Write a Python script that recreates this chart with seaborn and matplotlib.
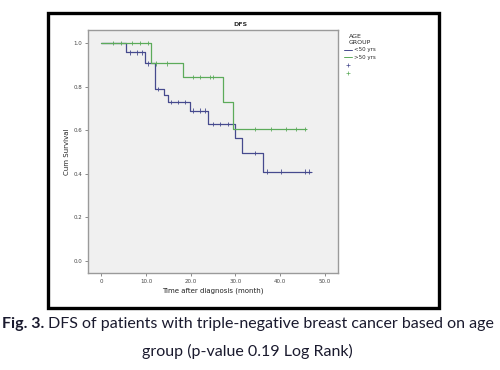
import matplotlib
matplotlib.use("Agg")
import matplotlib.pyplot as plt
import seaborn as sns
import pandas as pd
from matplotlib.patches import Rectangle
from matplotlib.lines import Line2D

# ---- data ----
young_time = [0, 5.6, 9.7, 12.0, 14.1, 15.0, 19.8, 23.9, 29.9, 31.4, 36.2, 47.0]
young_surv = [1.0, 0.957, 0.907, 0.79, 0.76, 0.73, 0.69, 0.63, 0.565, 0.495, 0.41, 0.41]
old_time = [0, 11.2, 18.3, 27.2, 29.5, 45.9]
old_surv = [1.0, 0.907, 0.843, 0.731, 0.605, 0.605]

young_cens_time = [6.4, 7.9, 9.0, 10.4, 12.6, 15.7, 17.2, 18.7, 20.5, 22.0, 23.2, 25.0, 26.5, 28.4, 34.3, 37.0, 40.3, 45.5, 46.6]
young_cens_surv = [0.957, 0.957, 0.957, 0.907, 0.79, 0.73, 0.73, 0.73, 0.69, 0.69, 0.69, 0.63, 0.63, 0.63, 0.495, 0.41, 0.41, 0.41, 0.41]
old_cens_time = [2.6, 4.5, 6.8, 8.6, 10.4, 12.3, 14.6, 20.5, 22.0, 24.3, 25.0, 34.3, 38.1, 41.4, 43.7, 45.5]
old_cens_surv = [1.0, 1.0, 1.0, 1.0, 1.0, 0.907, 0.907, 0.843, 0.843, 0.843, 0.843, 0.605, 0.605, 0.605, 0.605, 0.605]

groups = ["<50 yrs", ">50 yrs"]
x_ticks = [0, 10, 20, 30, 40, 50]
x_tick_labels = ["0", "10.0", "20.0", "30.0", "40.0", "50.0"]
y_ticks = [0.0, 0.2, 0.4, 0.6, 0.8, 1.0]
y_tick_labels = ["0.0", "0.2", "0.4", "0.6", "0.8", "1.0"]

blue = "#464a8e"
green = "#5cab5a"

curves = pd.concat([
    pd.DataFrame({"time": young_time, "surv": young_surv, "group": groups[0]}),
    pd.DataFrame({"time": old_time, "surv": old_surv, "group": groups[1]}),
])
cens = pd.concat([
    pd.DataFrame({"time": young_cens_time, "surv": young_cens_surv, "group": groups[0]}),
    pd.DataFrame({"time": old_cens_time, "surv": old_cens_surv, "group": groups[1]}),
])

sns.set_style("white")
plt.rcParams["font.family"] = ["DejaVu Sans"]

fig = plt.figure(figsize=(5, 3.7), dpi=100)
W, H = 500, 370
ax = fig.add_axes([88 / W, 1 - 273 / H, 250 / W, 243 / H])
ax.set_facecolor("#f0f0f0")

palette = {groups[0]: blue, groups[1]: green}
sns.lineplot(data=curves, x="time", y="surv", hue="group", palette=palette,
             drawstyle="steps-post", linewidth=0.9, legend=False, ax=ax,
             estimator=None, sort=False)
sns.scatterplot(data=cens, x="time", y="surv", hue="group", palette=palette,
                marker="+", s=10, linewidth=0.6, legend=False, ax=ax)

ax.set_xlim(-3, 53)
ax.set_ylim(-0.055, 1.06)
ax.set_xticks(x_ticks)
ax.set_xticklabels(x_tick_labels)
ax.set_yticks(y_ticks)
ax.set_yticklabels(y_tick_labels)
ax.tick_params(axis="both", labelsize=4, length=2.5, width=0.6, color="#777777",
               labelcolor="#444444", pad=1.5, direction="out")
ax.tick_params(axis="x", bottom=True)
ax.tick_params(axis="y", left=True)
for s in ax.spines.values():
    s.set_color("#9a9a9a")
    s.set_linewidth(1.0)

ax.set_xlabel("Time after diagnosis (month)", fontsize=5, labelpad=3, color="#222222")
ax.set_ylabel("Cum Survival", fontsize=5, labelpad=3, color="#222222")
fig.text(240 / W, 1 - 24 / H, "DFS", fontsize=4.5, ha="center", va="center", color="#333333",
         fontweight="bold")

handles = [
    Line2D([], [], color=blue, lw=0.7, drawstyle="steps-post"),
    Line2D([], [], color=green, lw=0.7, drawstyle="steps-post"),
    Line2D([], [], color=blue, marker="+", lw=0, markersize=3, markeredgewidth=0.5),
    Line2D([], [], color=green, marker="+", lw=0, markersize=3, markeredgewidth=0.5),
]
labels = [groups[0], groups[1], " ", " "]
leg = fig.legend(handles, labels, title="AGE\nGROUP", loc="upper left",
                 bbox_to_anchor=(340 / W, 1 - 30 / H), frameon=False, fontsize=4,
                 title_fontsize=4.5, handlelength=1.5, labelspacing=0.5,
                 borderpad=0.2, handletextpad=0.4)

# outer black frame around the chart image
fig.add_artist(Rectangle((48 / W, 1 - 308 / H), (439 - 48) / W, (308 - 13) / H,
                         transform=fig.transFigure, fill=False, lw=2.4, color="black"))

# caption with bold prefix
fig.canvas.draw()
r = fig.canvas.get_renderer()
cap_font = ["Lato", "DejaVu Sans"]
cap_size = 11.5
t1 = fig.text(2 / W, 1 - 324 / H, "Fig. 3.", fontsize=cap_size, fontweight="bold",
              family=cap_font, ha="left", va="center", color="#1a1a2e")
bb = t1.get_window_extent(renderer=r)
fig.text((bb.x1 + 4) / W, 1 - 324 / H,
         "DFS of patients with triple-negative breast cancer based on age",
         fontsize=cap_size, family=cap_font, ha="left", va="center", color="#1a1a2e")
fig.text(247 / W, 1 - 351 / H, "group (p-value 0.19 Log Rank)", fontsize=cap_size,
         family=cap_font, ha="center", va="center", color="#1a1a2e")

fig.savefig("out.png", dpi=100)
